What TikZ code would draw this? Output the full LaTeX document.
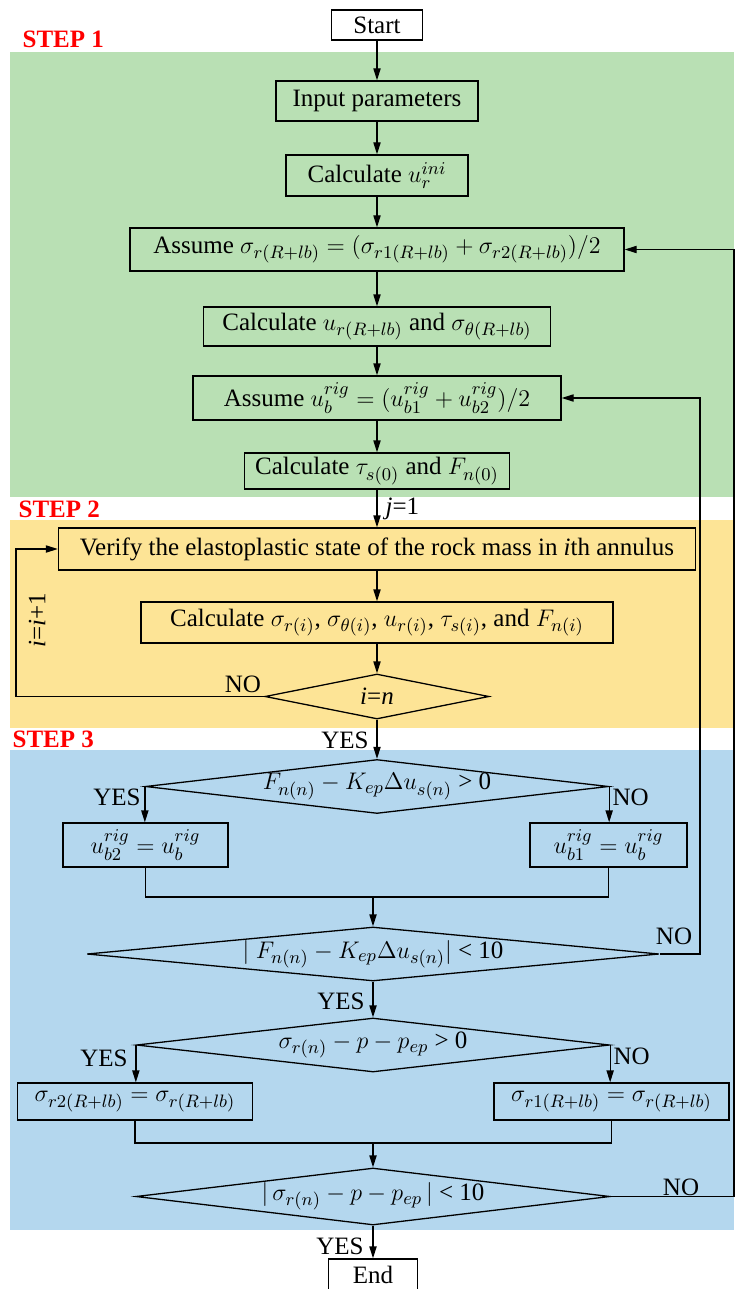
\documentclass[tikz,border=0pt]{standalone}
\usepackage{fontspec}
\setmainfont{Liberation Serif}
\usetikzlibrary{arrows.meta,shapes.geometric}
\definecolor{greenbg}{RGB}{185,224,180}
\definecolor{yellowbg}{RGB}{253,228,150}
\definecolor{bluebg}{RGB}{180,215,238}
\begin{document}
\begin{tikzpicture}[x=0.5pt,y=-0.5pt,
  font=\fontsize{12.5}{15}\selectfont,
  line width=0.65pt,
  procbox/.style 2 args={draw, rectangle, minimum width=#1, minimum height=#2, inner sep=0pt},
  decis/.style n args={3}{draw, diamond, minimum width=#1, minimum height=#2, shape aspect=#3, inner sep=0pt},
  arr/.style={-{Triangle[length=6pt,width=3.6pt]}},
  lab/.style={inner sep=0pt},
  steplab/.style={inner sep=0pt, anchor=west, text=red, font=\fontsize{12.5}{15}\selectfont\bfseries}]
\useasboundingbox (0,0) rectangle (734,1289);
% background regions
\fill[greenbg] (10,52) rectangle (734,497);
\fill[yellowbg] (10,520) rectangle (734,728);
\fill[bluebg] (10,750) rectangle (734,1230);
\node[steplab] (s1) at (22,39) {STEP 1};
\node[steplab] (s2) at (18,509) {STEP 2};
\node[steplab] (s3) at (12,739) {STEP 3};
% step 1
\node[procbox={45.5pt}{15pt}, fill=white] (start) at (377,25) {Start};
\node[procbox={101pt}{20pt}] (input) at (377,101) {Input parameters};
\node[procbox={91pt}{20.5pt}] (uini) at (377,175.5) {Calculate $u^{ini}_{r}$};
\node[procbox={247pt}{21.5pt}] (asig) at (377,249.5) {Assume $\sigma_{r(R+lb)} = (\sigma_{r1(R+lb)} + \sigma_{r2(R+lb)})/2$};
\node[procbox={173.5pt}{19.5pt}] (calcur) at (377,326.5) {Calculate $u_{r(R+lb)}$ and $\sigma_{\theta(R+lb)}$};
\node[procbox={184pt}{22pt}] (aub) at (377,398) {Assume $u_b^{rig} = (u_{b1}^{rig} + u_{b2}^{rig})/2$};
\node[procbox={132.5pt}{18pt}] (ctau) at (377,471) {Calculate $\tau_{s(0)}$ and $F_{n(0)}$};
% step 2
\node[procbox={318.5pt}{21pt}] (verify) at (377,549) {Verify the elastoplastic state of the rock mass in \textit{i}th annulus};
\node[procbox={236pt}{20.5pt}] (csig) at (377,622.5) {Calculate $\sigma_{r(i)}$, $\sigma_{\theta(i)}$, $u_{r(i)}$, $\tau_{s(i)}$, and $F_{n(i)}$};
\node[decis={112pt}{22.5pt}{5}] (din) at (377,696.5) {\textit{i}=\textit{n}};
% step 3
\node[decis={231.5pt}{27pt}{8.6}] (dF) at (377,786.5) {$F_{n(n)} - K_{ep}\Delta u_{s(n)}$ > 0};
\node[procbox={82.5pt}{22pt}] (ub2) at (145.5,845) {$u_{b2}^{rig} = u_b^{rig}$};
\node[procbox={78.5pt}{22pt}] (ub1) at (608.5,845) {$u_{b1}^{rig} = u_b^{rig}$};
\coordinate (j1) at (373,897);
\node[decis={286pt}{27pt}{10.6}] (dA) at (373,954) {$|\; F_{n(n)} - K_{ep}\Delta u_{s(n)}|$ < 10};
\node[decis={236.5pt}{27pt}{8.8}] (dB) at (373,1045) {$\sigma_{r(n)} - p - p_{ep}$ > 0};
\node[procbox={117.5pt}{18.5pt}] (sr2) at (135,1101.5) {$\sigma_{r2(R+lb)} = \sigma_{r(R+lb)}$};
\node[procbox={117.5pt}{18.5pt}] (sr1) at (611.5,1101.5) {$\sigma_{r1(R+lb)} = \sigma_{r(R+lb)}$};
\coordinate (j2) at (373,1143);
\node[decis={237pt}{28.5pt}{8.3}] (dC) at (373,1196.5) {$|\,\sigma_{r(n)} - p - p_{ep}\,|$ < 10};
\node[procbox={44.5pt}{16pt}, fill=white] (end) at (373,1275) {End};
% loop coordinates
\coordinate (loopL) at (16,0);
\coordinate (loopA) at (700,0);
\coordinate (loopB) at (734,0);
% connectors
\draw[arr] (start) -- (input);
\draw[arr] (input) -- (uini);
\draw[arr] (uini) -- (asig);
\draw[arr] (asig) -- (calcur);
\draw[arr] (calcur) -- (aub);
\draw[arr] (aub) -- (ctau);
\draw[arr] (ctau) -- (verify);
\draw[arr] (verify) -- (csig);
\draw[arr] (csig) -- (din);
\draw[arr] (din.west) -- (loopL |- din.west) -- (loopL |- verify.west) -- (verify.west);
\draw[arr] (din.south) -- (dF.north);
\draw[arr] (dF.west) -- (dF.west |- ub2.north);
\draw[arr] (dF.east) -- (dF.east |- ub1.north);
\draw (ub2.south) |- (j1);
\draw (ub1.south) |- (j1);
\draw[arr] (j1) -- (dA.north);
\draw[arr] (dA.east) -- (loopA |- dA.east) -- (loopA |- aub.east) -- (aub.east);
\draw[arr] (dA.south) -- (dB.north);
\draw[arr] (dB.west) -- (dB.west |- sr2.north);
\draw[arr] (dB.east) -- (dB.east |- sr1.north);
\draw (sr2.south) |- (j2);
\draw (sr1.south) |- (j2);
\draw[arr] (j2) -- (dC.north);
\draw[arr] (dC.east) -- (loopB |- dC.east) -- (loopB |- asig.east) -- (asig.east);
\draw[arr] (dC.south) -- (end.north);
% labels
\node[lab, anchor=west] (lj) at (385,509) {\textit{j}=1};
\node[lab, rotate=90] (li) at (37,620) {\textit{i}=\textit{i}+1};
\node[lab] (lno1) at (243,684) {NO};
\node[lab] (lyes1) at (345,740) {YES};
\node[lab] (lyes2) at (117,797) {YES};
\node[lab, anchor=west] (lno2) at (612,797) {NO};
\node[lab] (lno3) at (674,936) {NO};
\node[lab] (lyes3) at (341,1001) {YES};
\node[lab] (lyes4) at (104,1058) {YES};
\node[lab, anchor=west] (lno4) at (613,1056) {NO};
\node[lab] (lno5) at (681,1187) {NO};
\node[lab] (lyes5) at (340,1246) {YES};
\end{tikzpicture}
\end{document}
